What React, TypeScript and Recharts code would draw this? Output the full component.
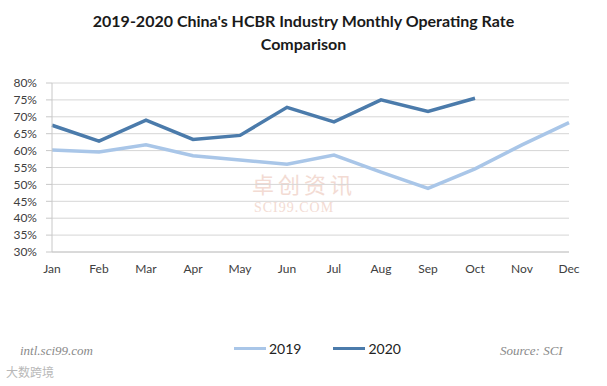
import React from 'react';
import { LineChart, Line, XAxis, YAxis, CartesianGrid } from 'recharts';

const months = ['Jan', 'Feb', 'Mar', 'Apr', 'May', 'Jun', 'Jul', 'Aug', 'Sep', 'Oct', 'Nov', 'Dec'];
const rate2019 = [60.2, 59.6, 61.7, 58.5, 57.2, 56.0, 58.7, 53.6, 48.8, 54.6, 61.7, 68.3];
const rate2020 = [67.5, 62.8, 69.0, 63.3, 64.5, 72.8, 68.5, 75.0, 71.6, 75.5, null, null];
const yTicks = [30, 35, 40, 45, 50, 55, 60, 65, 70, 75, 80];

const seriesInfo = [
  { key: 'y2019', name: '2019', color: '#a9c6e8' },
  { key: 'y2020', name: '2020', color: '#4b7bab' },
];

const data = months.map((m, i) => ({ month: m, y2019: rate2019[i], y2020: rate2020[i] }));

const font = 'Lato, "Open Sans", sans-serif';

const App: React.FC = () => {
  return (
    <div style={{ position: 'absolute', left: 0, top: 0, width: 607, height: 386, background: '#fff', fontFamily: font }}>
      {/* Title */}
      <div style={{ position: 'absolute', top: 9, left: 0, width: 607, textAlign: 'center', fontSize: 16, fontWeight: 700, color: '#1a1a1a', lineHeight: '23px' }}>
        2019-2020 China's HCBR Industry Monthly Operating Rate<br />Comparison
      </div>

      {/* faint watermark */}
      <div style={{ position: 'absolute', left: 252, top: 170, fontSize: 22, letterSpacing: 4, lineHeight: '26px', color: '#e8b8a8', opacity: 0.5, fontFamily: '"Noto Sans CJK SC", sans-serif' }}>
        卓创资讯
      </div>
      <div style={{ position: 'absolute', left: 254, top: 200, fontSize: 14, letterSpacing: 1, lineHeight: '15px', color: '#e8b8a8', opacity: 0.5, fontFamily: '"Liberation Serif", serif' }}>
        SCI99.COM
      </div>

      <LineChart width={607} height={386} data={data} margin={{ top: 83, right: 38, bottom: 104, left: 0 }}>
        <CartesianGrid vertical={false} stroke="#d6d6d6" strokeWidth={1} />
        <XAxis
          dataKey="month"
          stroke="#c8c8c8"
          tickLine={false}
          tickSize={0}
          tickMargin={12}
          height={30}
          interval={0}
          tick={{ fill: '#404040', fontSize: 12, fontFamily: font }}
        />
        <YAxis
          domain={[30, 80]}
          ticks={yTicks}
          interval={0}
          width={52}
          stroke="#c8c8c8"
          tickSize={6}
          tickMargin={9}
          tickFormatter={(v: number) => `${v}%`}
          tick={{ fill: '#404040', fontSize: 12, fontFamily: font }}
        />
        {seriesInfo.map((s) => (
          <Line
            key={s.key}
            type="linear"
            dataKey={s.key}
            name={s.name}
            stroke={s.color}
            strokeWidth={3.5}
            dot={false}
            isAnimationActive={false}
          />
        ))}
      </LineChart>

      {/* Legend */}
      <div style={{ position: 'absolute', top: 340, left: 234, display: 'flex', alignItems: 'center', fontSize: 14, color: '#222' }}>
        {seriesInfo.map((s, i) => (
          <div key={s.key} style={{ display: 'flex', alignItems: 'center', marginRight: i === 0 ? 32 : 0 }}>
            <div style={{ width: 32, height: 3.5, background: s.color, marginRight: 3 }} />
            <span>{s.name}</span>
          </div>
        ))}
      </div>

      {/* Footer */}
      <div style={{ position: 'absolute', top: 343, left: 20, fontFamily: '"Liberation Serif", serif', fontStyle: 'italic', fontSize: 13, color: '#8a8a8a' }}>
        intl.sci99.com
      </div>
      <div style={{ position: 'absolute', top: 343, left: 500, fontFamily: '"Liberation Serif", serif', fontStyle: 'italic', fontSize: 13, color: '#8a8a8a' }}>
        Source: SCI
      </div>
      <div style={{ position: 'absolute', top: 363, left: 6, fontFamily: '"Noto Sans CJK SC", sans-serif', fontSize: 12, color: '#b8b8b8' }}>
        大数跨境
      </div>
    </div>
  );
};

export default App;
